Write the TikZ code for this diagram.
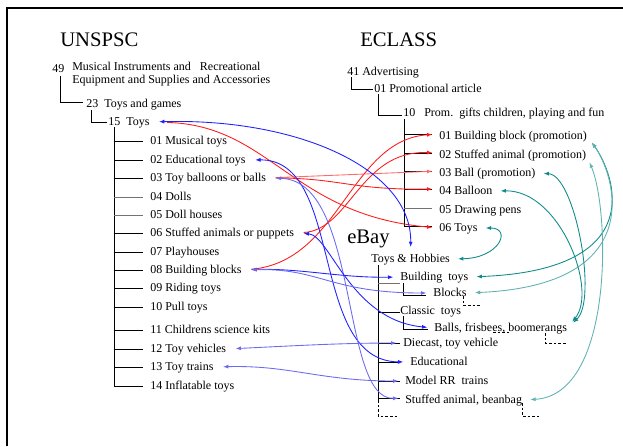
\documentclass[tikz,border=0pt]{standalone}
\usepackage{fontspec}
\setmainfont{Liberation Serif}
\usetikzlibrary{arrows.meta}
\definecolor{ublue}{HTML}{1F1FFF}
\definecolor{lblue}{HTML}{6A6AF2}
\definecolor{ured}{HTML}{FF1A1A}
\definecolor{lred}{HTML}{FF6A6A}
\definecolor{eteal}{HTML}{0E8A8A}
\definecolor{lteal}{HTML}{5FB2B2}
\def\titlefont{\fontsize{15.5}{17}\selectfont}
\def\itemfont{\fontsize{9}{9.75}\selectfont}

\begin{document}
\begin{tikzpicture}[x=0.75pt,y=-0.75pt,
    lbl/.style={anchor=west,inner sep=0pt,text height=6.5pt,text depth=2pt,font=\itemfont},
    ttl/.style={anchor=west,inner sep=0pt,font=\titlefont},
    br/.style={line width=0.6pt},
    gbr/.style={line width=0.6pt,black!55},
    open/.style={line width=0.5pt,dash pattern=on 2pt off 1.5pt},
    link/.style={line width=0.65pt,>={Latex[length=4pt,width=3pt]}},
    ub/.style={link,<->,shorten <=7pt,shorten >=5pt},
    rd/.style={link,->,shorten <=7pt,shorten >=5pt},
    tl/.style={link,<->,shorten <=6pt,shorten >=6pt}]
      \useasboundingbox (0,0) rectangle (623,446);
      \draw[line width=2pt] (7,446) -- (7,8) -- (623,8);

      \node[ttl] (unspsc) at (60,40) {UNSPSC};
      \node[ttl] (eclass) at (360,40) {ECLASS};
      \node[ttl] (ebay) at (347,239) {eBay};

      \node[lbl] (u49) at (52,69) {49};
      \node[lbl] (u49a) at (72,67) {Musical Instruments and\ \ \ Recreational};
      \node[lbl] (u49b) at (72,80) {Equipment and Supplies and Accessories};
      \node[lbl] (u23) at (86,104) {23\ \ Toys and games};
      \node[lbl] (u15) at (108,122) {15\ \ Toys};
      \node[lbl] (u01) at (150,141) {01 Musical toys};
      \node[lbl] (u02) at (150,160) {02 Educational toys};
      \node[lbl] (u03) at (150,178) {03 Toy balloons or balls};
      \node[lbl] (u04) at (150,197) {04 Dolls};
      \node[lbl] (u05) at (150,215) {05 Doll houses};
      \node[lbl] (u06) at (150,233) {06 Stuffed animals or puppets};
      \node[lbl] (u07) at (150,252) {07 Playhouses};
      \node[lbl] (u08) at (150,270) {08 Building blocks};
      \node[lbl] (u09) at (150,288) {09 Riding toys};
      \node[lbl] (u10) at (150,307) {10 Pull toys};
      \node[lbl] (u11) at (150,330) {11 Childrens science kits};
      \node[lbl] (u12) at (150,349) {12 Toy vehicles};
      \node[lbl] (u13) at (150,367) {13 Toy trains};
      \node[lbl] (u14) at (150,386) {14 Inflatable toys};

      \node[lbl] (e41) at (347,72) {41 Advertising};
      \node[lbl] (e01p) at (374,89) {01 Promotional article};
      \node[lbl] (e10) at (403,113) {10\ \ \ Prom.\ \ gifts children, playing and fun};
      \node[lbl] (e01) at (439,136) {01 Building block (promotion)};
      \node[lbl] (e02) at (439,155) {02 Stuffed animal (promotion)};
      \node[lbl] (e03) at (439,173) {03 Ball (promotion)};
      \node[lbl] (e04) at (439,191) {04 Balloon};
      \node[lbl] (e05) at (439,210) {05 Drawing pens};
      \node[lbl] (e06) at (439,228) {06 Toys};

      \node[lbl] (bth) at (371,259) {Toys \& Hobbies};
      \node[lbl] (bbt) at (400,277) {Building\ \ toys};
      \node[lbl] (bblk) at (433,293) {Blocks};
      \node[lbl] (bct) at (400,311) {Classic\ \ toys};
      \node[lbl] (bball) at (434,328) {Balls, frisbees, boomerangs};
      \node[lbl] (bdie) at (403,343) {Diecast, toy vehicle};
      \node[lbl] (bedu) at (410,362) {Educational};
      \node[lbl] (bmrr) at (405,381) {Model RR\ \ trains};
      \node[lbl] (bstf) at (405,400) {Stuffed animal, beanbag};

      \draw[br] (60,76) |- (83,102);
      \draw[br] (91,110) |- (107,122);
      \coordinate (uvert) at (114,127);
      \draw[br] (uvert) -- (uvert |- u14.west);
      \foreach \n in {01,02,03,06,07,08,09,10,11,12,13,14}
        \draw[br] (u\n.west -| uvert) -- ++(29,0);
      \foreach \n in {04,05}
        \draw[gbr] (u\n.west -| uvert) -- ++(29,0);

      \draw[br] (351,77) |- (373,89);
      \draw[br] (378,94) |- (402,115);
      \coordinate (evert) at (404,119);
      \draw[br] (evert) -- ([yshift=1.5pt]evert |- e06.west);
      \foreach \n in {01,02,03,04,06}
        \draw[br] ([yshift=1.5pt]e\n.west -| evert) -- ++(28,0);
      \draw[gbr] ([yshift=1.5pt]e05.west -| evert) -- ++(28,0);

      \coordinate (bvert) at (378,265);
      \draw[br] (bvert) -- (378,400);
      \draw[open] (378,400) |- (398,416);
      \draw[gbr] (378,283) -- (400,283);
      \draw[br] (403,283) |- (426,295);
      \draw[br] (378,312) -- (400,312);
      \draw[br] (403,316) |- (428,329);
      \foreach \n in {bdie,bedu,bmrr}
        \draw[br] (\n.west -| bvert) -- ++(22,0);
      \draw[br] ([yshift=1.5pt]bstf.west -| bvert) -- ++(22,0);
      \draw[open] (463,296) |- (480,305);
      \draw[open] (493,332) -- (509,332);
      \draw[open] (545,333) |- (567,343);
      \draw[open] (522,403) |- (539,416);

      \draw[rd,ured,shorten <=13pt] (u15.east) .. controls (270,125) and (292,215) .. (e06.west);
      \draw[rd,lred] (u03.east) -- ([yshift=1.5pt]e03.west);
      \draw[rd,ured] (u03.east) .. controls (340,178) and (350,190) .. ([yshift=1.5pt]e04.west);
      \draw[rd,ured] (u06.east) .. controls (350,230) and (360,150) .. ([yshift=1.5pt]e02.west);
      \draw[rd,ured] (u08.east) .. controls (340,262) and (350,140) .. ([yshift=1.5pt]e01.west);

      \draw[ub,ublue,shorten >=4.5pt] (u15.east) .. controls (300,118) and (412,170) .. (bth.north);
      \draw[ub,ublue] (u02.east) .. controls (345,159) and (308,361) .. (bedu.west);
      \draw[ub,lblue] (u03.east) .. controls (360,180) and (340,400) .. ([yshift=1.5pt]bstf.west);
      \draw[ub,ublue] (u06.east) .. controls (330,235) and (350,320) .. (bball.west);
      \draw[ub,ublue] (u08.east) .. controls (300,268) and (340,278) .. (bbt.west);
      \draw[ub,lblue] (u08.east) .. controls (320,268) and (330,293) .. (bblk.west);
      \draw[ub,lblue] (u12.east) .. controls (290,346) and (340,343) .. (bdie.west);
      \draw[ub,lblue] (u13.east) .. controls (290,365) and (320,381) .. (bmrr.west);

      \draw[tl,eteal] (e06.east) .. controls (512,228) and (500,258) .. (bth.east);
      \draw[tl,eteal] (e01.east) .. controls (615,175) and (650,270) .. (bbt.east);
      \draw[tl,lteal] (e01.east) .. controls (615,175) and (650,285) .. (bblk.east);
      \draw[tl,eteal] (e03.east) .. controls (575,175) and (598,300) .. (bball.east);
      \draw[tl,eteal] (e04.east) .. controls (560,190) and (598,290) .. (bball.east);
      \draw[tl,lteal] (e02.east) .. controls (610,210) and (614,395) .. (bstf.east);
\end{tikzpicture}
\end{document}
